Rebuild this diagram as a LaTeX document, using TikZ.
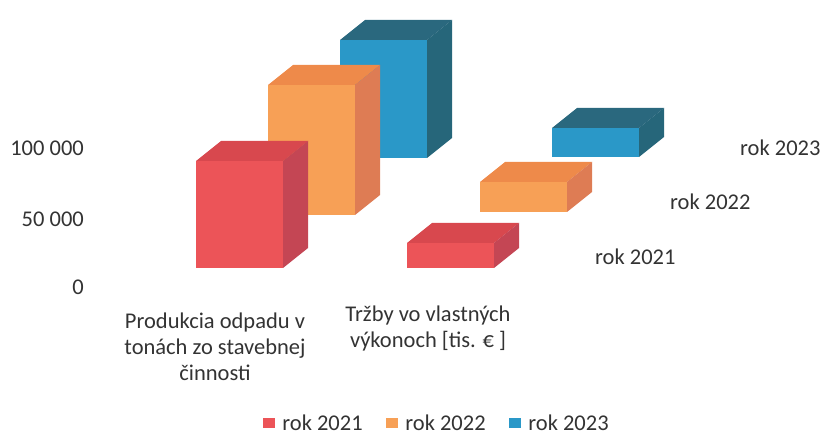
\documentclass[tikz,border=0pt]{standalone}
\usepackage{fontspec}
\setmainfont{Carlito}
\usepackage{tikz}
\usetikzlibrary{positioning}
\definecolor{front2021}{RGB}{236,84,88}
\definecolor{side2021}{RGB}{196,70,84}
\definecolor{top2021}{RGB}{216,72,78}
\definecolor{front2022}{RGB}{247,160,86}
\definecolor{side2022}{RGB}{222,124,84}
\definecolor{top2022}{RGB}{238,138,74}
\definecolor{front2023}{RGB}{42,152,200}
\definecolor{side2023}{RGB}{38,102,122}
\definecolor{top2023}{RGB}{42,104,126}
\tikzstyle{txt}=[text=black!80,font=\fontsize{22.5}{26}\selectfont,inner sep=0pt]
\tikzstyle{cat txt} = [txt, align=center]
\tikzstyle{key box} = [minimum width=12pt,minimum height=10pt,inner sep=0pt]

\begin{document}
\begin{tikzpicture}[x=1pt,y=-1pt]
    \useasboundingbox (0,0) rectangle (826,435);
    % Draw the bars, back row first
    \foreach \yr/\x/\b/\t in {2023/340/158/40, 2023/552/157/128, 2022/268/215/85, 2022/480/212/182, 2021/196/268/161, 2021/407/268/243}
    {
        \fill[front\yr] (\x,\b) rectangle (\x+87,\t);
        \fill[top\yr] (\x,\t) -- ++(25,-20) -- ++(87,0) -- ++(-25,20) -- cycle;
        \fill[side\yr] (\x+87,\b) -- ++(25,-20) -- (\x+112,\t-20) -- (\x+87,\t) -- cycle;
    }

    % Value axis
    \foreach \pos/\name/\val in {{(84,148)/ya/100 000}, {(84,219)/yb/50 000}, {(84,287)/yc/0}}
        \node[txt, anchor=east] (\name) at \pos {\val};

    % Category names
    \node[cat txt] (odpad) at (215,347) {Produkcia odpadu v\\tonách zo stavebnej\\činnosti};
    \node[cat txt] (trzby) at (428,329) {Tržby vo vlastných\\výkonoch [tis. € ]};

    % Series names along the depth
    \foreach \pos/\yr in {{(595,257)/2021}, {(670,202)/2022}, {(740,148)/2023}}
        \node[txt, anchor=west] (s\yr) at \pos {rok \yr};

    % Legend
    \foreach \pos/\yr in {{(269,423)/2021}, {(392,423)/2022}, {(515,423)/2023}}
    {
        \node[key box, fill=front\yr] (k\yr) at \pos {};
        \node[txt, right=7pt of k\yr] (l\yr) {rok \yr};
    }
\end{tikzpicture}
\end{document}
